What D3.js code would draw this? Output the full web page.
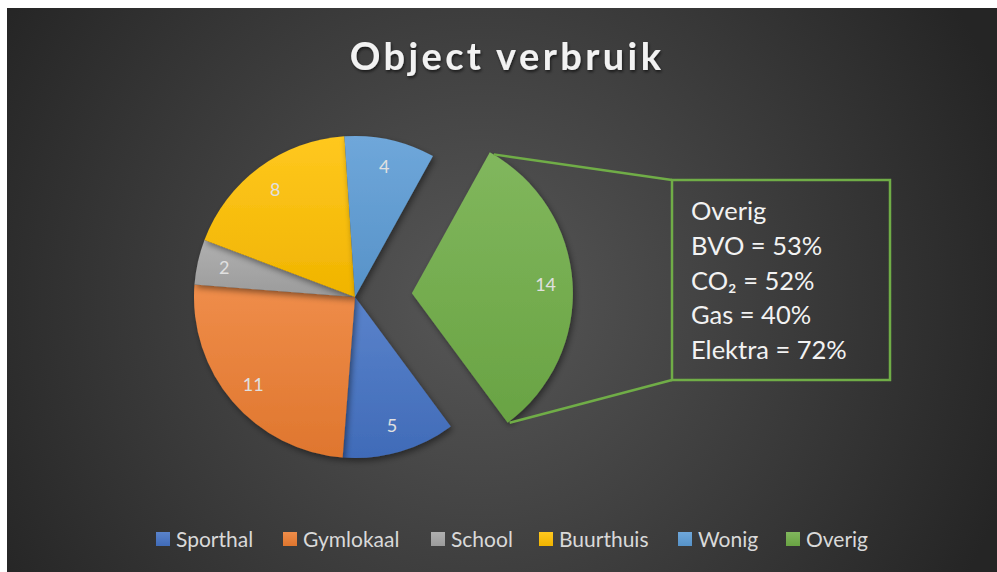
<!DOCTYPE html>
<html><head><meta charset="utf-8">
<script src="https://cdn.jsdelivr.net/npm/d3@7/dist/d3.min.js"></script>
<style>
html,body{margin:0;padding:0;background:#fff;}
svg{display:block;}
</style></head>
<body>
<svg id="chart" width="997" height="572"></svg>
<script>
const categories = ["Sporthal", "Gymlokaal", "School", "Buurthuis", "Wonig", "Overig"];
const values = [5, 11, 2, 8, 4, 14];
const colors = ["#4472C4", "#ED7D31", "#A5A5A5", "#FFC000", "#5B9BD5", "#70AD47"];
const calloutTitle = "Overig";
const calloutLines = [
  {label: "BVO", value: "53%"},
  {label: "CO\u2082", value: "52%"},
  {label: "Gas", value: "40%"},
  {label: "Elektra", value: "72%"}
];
const titleText = "Object verbruik";

const W = 997, H = 572;
const svg = d3.select("#chart");
const defs = svg.append("defs");
const font = "Lato, 'Open Sans', sans-serif";

// background
const bg = defs.append("radialGradient").attr("id","bg")
  .attr("gradientUnits","userSpaceOnUse").attr("cx",480).attr("cy",300).attr("r",560);
bg.append("stop").attr("offset","0").attr("stop-color","#575757");
bg.append("stop").attr("offset","1").attr("stop-color","#252525");
svg.append("rect").attr("x",7).attr("y",8).attr("width",W-7).attr("height",H-8).attr("fill","url(#bg)");

// shadow filter
const f = defs.append("filter").attr("id","sh").attr("x","-20%").attr("y","-20%").attr("width","140%").attr("height","140%");
f.append("feDropShadow").attr("dx",2).attr("dy",3).attr("stdDeviation",3).attr("flood-color","#000").attr("flood-opacity",0.45);
const ft = defs.append("filter").attr("id","tsh").attr("x","-10%").attr("y","-30%").attr("width","120%").attr("height","160%");
ft.append("feDropShadow").attr("dx",1).attr("dy",2).attr("stdDeviation",1.5).attr("flood-color","#000").attr("flood-opacity",0.6);

// slice gradients
colors.forEach((c,i)=>{
  const g = defs.append("linearGradient").attr("id","g"+i).attr("x1",0).attr("y1",0).attr("x2",0).attr("y2",1);
  g.append("stop").attr("offset","0").attr("stop-color", d3.interpolateRgb(c,"#fff")(0.12));
  g.append("stop").attr("offset","1").attr("stop-color", d3.interpolateRgb(c,"#000")(0.06));
});

// title
svg.append("text").attr("x",507).attr("y",70).attr("text-anchor","middle")
  .attr("font-family",font).attr("font-weight","bold").attr("font-size",38)
  .attr("letter-spacing",3.4).attr("fill","#f2f2f2").attr("filter","url(#tsh)")
  .text(titleText);

// pie
const cx = 355, cy = 297, R = 161;
const startDeg = 143.5;
const pie = d3.pie().sort(null).value(d=>d)
  .startAngle(startDeg*Math.PI/180).endAngle((startDeg+360)*Math.PI/180);
const arcs = pie(values);
const arc = d3.arc().innerRadius(0).outerRadius(R);
const explodeIdx = 5, explode = 57;

const offset = d => {
  if (d.index !== explodeIdx) return [0,0];
  const m = (d.startAngle + d.endAngle)/2;
  return [explode*Math.sin(m), -explode*Math.cos(m)];
};

const g = svg.append("g").attr("transform",`translate(${cx},${cy})`);
const slices = g.selectAll("g.slice").data(arcs).join("g").attr("class","slice")
  .attr("transform", d=>{const o=offset(d); return `translate(${o[0]},${o[1]})`;});
slices.append("path").attr("d",arc).attr("fill",(d,i)=>`url(#g${i})`).attr("filter","url(#sh)");

// labels
const labelArc = d3.arc().innerRadius(134).outerRadius(134);
slices.append("text")
  .attr("transform", d=>{const p=labelArc.centroid(d); return `translate(${p[0]},${p[1]})`;})
  .attr("text-anchor","middle").attr("dy","0.35em")
  .attr("font-family",font).attr("font-size",18).attr("fill","#e0e0e0")
  .text(d=>d.data);

// callout box and leader lines
const ex = arcs[explodeIdx];
const o = offset(ex);
const p1 = [cx+o[0]+R*Math.sin(ex.startAngle)+4, cy+o[1]-R*Math.cos(ex.startAngle)+2];
const p2 = [cx+o[0]+R*Math.sin(ex.endAngle)+2, cy+o[1]-R*Math.cos(ex.endAngle)];
const bx = 672, by = 180, bw = 218, bh = 200;
const green = colors[5];
svg.append("line").attr("x1",p1[0]).attr("y1",p1[1]).attr("x2",bx).attr("y2",by)
  .attr("stroke",green).attr("stroke-width",2.5);
svg.append("line").attr("x1",p2[0]).attr("y1",p2[1]).attr("x2",bx).attr("y2",by+bh)
  .attr("stroke",green).attr("stroke-width",2.5);
svg.append("rect").attr("x",bx).attr("y",by).attr("width",bw).attr("height",bh)
  .attr("fill","none").attr("stroke",green).attr("stroke-width",2.5);

const lines = [calloutTitle].concat(calloutLines.map(d=>`${d.label} = ${d.value}`));
svg.append("g").selectAll("text").data(lines).join("text")
  .attr("x",691).attr("y",(d,i)=>220+i*34.8)
  .attr("font-family",font).attr("font-size",25.5).attr("fill","#f2f2f2")
  .text(d=>d);

// legend
const legendX = [156, 283, 431, 539, 678, 786];
const lg = svg.append("g").selectAll("g").data(categories).join("g")
  .attr("transform",(d,i)=>`translate(${legendX[i]},532)`);
lg.append("rect").attr("width",14).attr("height",14).attr("fill",(d,i)=>`url(#g${i})`);
lg.append("text").attr("x",20).attr("y",7).attr("dy","0.36em")
  .attr("font-family",font).attr("font-size",21).attr("fill","#d9d9d9").text(d=>d);
</script>
</body></html>
